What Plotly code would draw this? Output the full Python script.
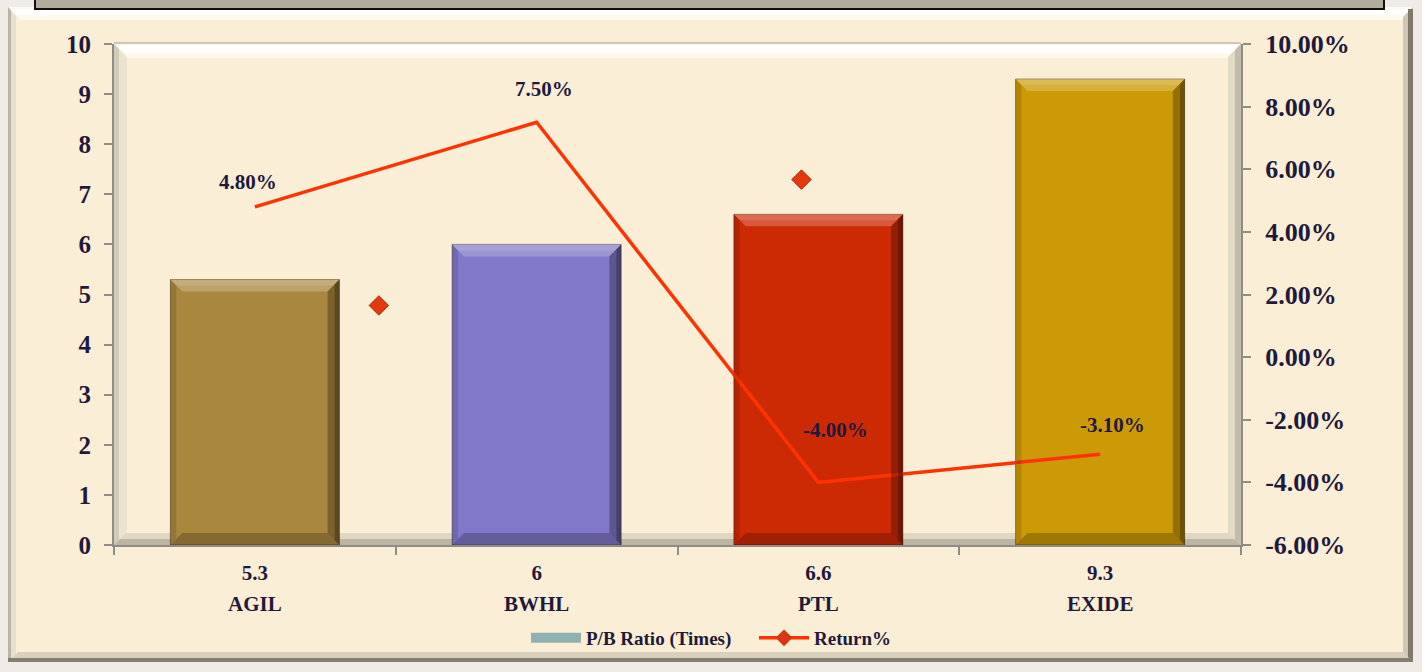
import plotly.graph_objects as go

# ---------------- data ----------------
categories = ["AGIL", "BWHL", "PTL", "EXIDE"]
pb_ratio = [5.3, 6, 6.6, 9.3]
return_pct = [4.8, 7.5, -4.0, -3.1]
bar_colors = ["#aa873f", "#8078c8", "#cc2a05", "#cc9a06"]
# stray diamond markers visible in the picture (x in category index units, y in %)
stray_x = [0.44, 1.94]
stray_y = [1.65, 5.67]
y2_ticks = [-6, -4, -2, 0, 2, 4, 6, 8, 10]

# ---------------- style ----------------
W, H = 1422, 672
L, R, T, B = 114, 1241, 44, 545
PW, PH = R - L, B - T
TXT = "#1f1a3d"
FONT = "Liberation Serif, Times New Roman, serif"
LINE = "#ff3300"
AXC = "#8f8c86"
label_offsets = [(-7, 25), (7, 33), (17, 52), (12, 29)]


def px(x):
    return (x - L) / PW


def py(y):
    return (B - y) / PH


def prect(x0, y0, x1, y1, color, line=None, lw=0):
    return dict(type="rect", xref="paper", yref="paper",
                x0=px(x0), x1=px(x1), y0=py(y1), y1=py(y0),
                fillcolor=color, line=dict(width=lw, color=line or color),
                layer="below")


def ppath(pts, color):
    d = "M " + " L ".join(f"{px(a):.5f},{py(b):.5f}" for a, b in pts) + " Z"
    return dict(type="path", xref="paper", yref="paper", path=d,
                fillcolor=color, line=dict(width=0), layer="below")


shapes = []
# chart area
shapes.append(prect(8, 7, 1413, 662, "#faeed6"))
# chart area bevel
shapes.append(prect(8, 7, 11, 662, "#b9b3a7"))
shapes.append(prect(11, 10, 16, 658, "#e9e0cb"))
shapes.append(ppath([(8, 7), (1413, 7), (1402, 20), (20, 20)], "#fffaf0"))
shapes.append(ppath([(11, 10), (1410, 10), (1404, 15), (16, 15)], "#ffffff"))
shapes.append(ppath([(1413, 7), (1413, 662), (1403, 652), (1403, 17)], "#cfc7b5"))
shapes.append(prect(1408, 9, 1413, 662, "#7f786b"))
shapes.append(ppath([(8, 662), (1413, 662), (1403, 652), (18, 652)], "#d9d0bd"))
shapes.append(prect(8, 658, 1413, 662, "#857e70"))
# top box (cut off element above)
shapes.append(dict(type="rect", xref="paper", yref="paper",
                   x0=px(35), x1=px(1384), y0=py(9), y1=py(-4),
                   fillcolor="#b3ab9b", line=dict(width=2, color="#111111"),
                   layer="below"))
# plot area bevel
shapes.append(prect(L, 42, R, 44, "#cfc8b8"))
shapes.append(ppath([(L, 44), (R, 44), (R - 14, 58), (L + 14, 58)], "#fff8ea"))
shapes.append(ppath([(L, 45), (R, 45), (R - 8, 53), (L + 8, 53)], "#ffffff"))
shapes.append(ppath([(L, 44), (L + 13, 57), (L + 13, B - 11), (L, B)], "#ece3cf"))
shapes.append(ppath([(L, 44), (L + 5, 49), (L + 5, B - 5), (L, B)], "#d2cab9"))
shapes.append(ppath([(R, 44), (R, B), (R - 13, B - 12), (R - 13, 57)], "#e3dac6"))
shapes.append(ppath([(R, 44), (R, B), (R - 6, B - 6), (R - 6, 50)], "#c4bcab"))
shapes.append(ppath([(L, B), (R, B), (R - 12, B - 12), (L + 12, B - 12)], "#e0d7c3"))
shapes.append(ppath([(L, B), (R, B), (R - 6, B - 6), (L + 6, B - 6)], "#bdb5a4"))

# bar bevels, built from the data arrays
bw = 0.3
dx, dy = 0.042, 0.24
for i, v in enumerate(pb_ratio):
    a, b = i - bw, i + bw

    def dpath(pts, color):
        d = "M " + " L ".join(f"{p:.4f},{q:.4f}" for p, q in pts) + " Z"
        return dict(type="path", xref="x", yref="y", path=d, fillcolor=color,
                    line=dict(width=0), layer="above")

    shapes.append(dpath([(a, v), (b, v), (b - dx, v - dy), (a + dx, v - dy)], "rgba(255,255,255,0.22)"))
    shapes.append(dpath([(a, v), (b, v), (b - dx * 0.5, v - dy * 0.5), (a + dx * 0.5, v - dy * 0.5)], "rgba(255,255,255,0.12)"))
    shapes.append(dpath([(b, v), (b, 0), (b - dx, dy), (b - dx, v - dy)], "rgba(0,0,0,0.28)"))
    shapes.append(dpath([(b, v), (b, 0), (b - dx * 0.4, dy * 0.4), (b - dx * 0.4, v - dy * 0.4)], "rgba(0,0,0,0.25)"))
    shapes.append(dpath([(a, 0), (b, 0), (b - dx, dy), (a + dx, dy)], "rgba(0,0,0,0.22)"))
    shapes.append(dpath([(a, v), (a, 0), (a + dx * 0.5, dy * 0.5), (a + dx * 0.5, v - dy * 0.5)], "rgba(0,0,0,0.12)"))

fig = go.Figure()
fig.add_trace(go.Bar(
    x=list(range(len(categories))), y=pb_ratio, width=0.6,
    marker=dict(color=bar_colors, line=dict(color="rgba(40,25,10,0.45)", width=1)),
    name="P/B Ratio (Times)", showlegend=False, hoverinfo="x+y"))
# legend entry for the bar series
fig.add_trace(go.Scatter(
    x=[None], y=[None], mode="lines", name="P/B Ratio (Times)",
    line=dict(color="#8fb1b0", width=10)))
fig.add_trace(go.Scatter(
    x=list(range(len(categories))), y=return_pct, yaxis="y2", mode="lines",
    line=dict(color=LINE, width=3.5), name="Return%", showlegend=False))
# legend entry for the return series (line + diamond)
fig.add_trace(go.Scatter(
    x=[None], y=[None], yaxis="y2", mode="lines+markers", name="Return%",
    line=dict(color=LINE, width=3.5),
    marker=dict(symbol="diamond", size=13, color="#d8380e")))
fig.add_trace(go.Scatter(
    x=stray_x, y=stray_y, yaxis="y2", mode="markers", showlegend=False,
    marker=dict(symbol="diamond", size=15, color="#e23a0d",
                line=dict(color="#b22a08", width=1))))

annotations = []
for i, (v, (ox, oy)) in enumerate(zip(return_pct, label_offsets)):
    annotations.append(dict(x=i, y=v, xref="x", yref="y2", text=f"{v:.2f}%",
                            showarrow=False, xshift=ox, yshift=oy,
                            font=dict(family=FONT, size=21, color=TXT, weight="bold")))
for i, c in enumerate(categories):
    annotations.append(dict(x=i, y=py(604), xref="x", yref="paper", text=c,
                            showarrow=False, yanchor="middle",
                            font=dict(family=FONT, size=21, color=TXT, weight="bold")))

fig.update_layout(
    width=W, height=H, autosize=False,
    margin=dict(l=L, r=W - R, t=T, b=H - B, pad=0),
    paper_bgcolor="#efece7", plot_bgcolor="rgba(0,0,0,0)",
    shapes=shapes, annotations=annotations,
    bargap=0.4,
    xaxis=dict(
        range=[-0.5, len(categories) - 0.5],
        tickvals=list(range(len(categories))),
        ticktext=[f"{v:g}" for v in pb_ratio],
        ticks="", ticklabelstandoff=8,
        tickfont=dict(family=FONT, size=21, color=TXT, weight="bold"),
        showline=True, linecolor=AXC, linewidth=2, showgrid=False, zeroline=False,
        minor=dict(tick0=-0.5, dtick=1, ticks="outside", ticklen=8, tickcolor=AXC, tickwidth=1.5),
    ),
    yaxis=dict(
        range=[0, 10], dtick=1, ticks="outside", ticklen=8, tickcolor=AXC, tickwidth=1.5,
        ticklabelstandoff=8,
        tickfont=dict(family=FONT, size=25, color=TXT, weight="bold"),
        showline=True, linecolor=AXC, linewidth=2, showgrid=False, zeroline=False,
    ),
    yaxis2=dict(
        range=[-6, 10], overlaying="y", side="right",
        tickvals=y2_ticks, ticktext=[f"{t:.2f}%" for t in y2_ticks],
        ticks="outside", ticklen=8, tickcolor=AXC, tickwidth=1.5, ticklabelstandoff=9,
        tickfont=dict(family=FONT, size=26, color=TXT, weight="bold"),
        showline=True, linecolor=AXC, linewidth=2, showgrid=False, zeroline=False,
    ),
    legend=dict(
        orientation="h", x=px(526), xanchor="left", y=py(638), yanchor="middle",
        font=dict(family=FONT, size=19, color=TXT, weight="bold"),
        bgcolor="rgba(0,0,0,0)", itemwidth=50, entrywidth=163,
    ),
)

fig.write_html("out.html")
